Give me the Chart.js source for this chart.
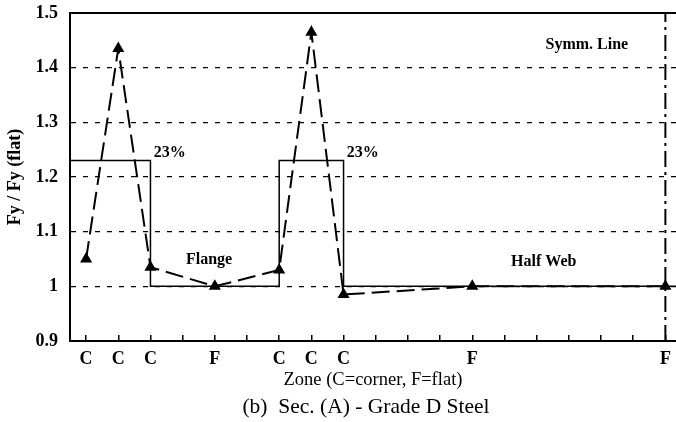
<!DOCTYPE html>
<html>
<head>
<meta charset="utf-8">
<script src="https://cdn.jsdelivr.net/npm/chart.js@4/dist/chart.umd.min.js"></script>
<style>
  html, body { margin: 0; padding: 0; background: #fff; }
  #wrap { width: 676px; height: 422px; }
</style>
</head>
<body>
<div id="wrap"><canvas id="fyCanvas" width="676" height="422"></canvas></div>
<script>
// zone positions along the section and tick labels
const tickPos = [0, 1, 2, 3, 4, 5, 6, 7, 8, 9, 10, 11, 12, 13, 14, 15, 16, 17, 18];
const tickLabels = ['C', 'C', 'C', '', 'F', '', 'C', 'C', 'C', '', '', '', 'F', '', '', '', '', '', 'F'];

// measured Fy / Fy(flat)
const zoneX = [0, 1, 2, 4, 6, 7, 8, 12, 18];
const ratio = [1.05, 1.435, 1.035, 1.0, 1.03, 1.465, 0.985, 1.0, 1.0];

// corner enhancement steps (23%)
const stepX = [-0.5, 2, 2, 6, 6, 8, 8, 18.33];
const stepY = [1.23, 1.23, 1.0, 1.0, 1.23, 1.23, 1.0, 1.0];

// symmetry line
const symmX = [18, 18];
const symmY = [0.9, 1.5];

const notes = [
    { text: '23%', x: 2.1, y: 1.245, align: 'left' },
    { text: '23%', x: 8.1, y: 1.245, align: 'left' },
    { text: 'Flange', x: 3.82, y: 1.048, align: 'center' },
    { text: 'Half Web', x: 14.22, y: 1.044, align: 'center' },
    { text: 'Symm. Line', x: 15.56, y: 1.442, align: 'center' }
];

const caption = '(b)  Sec. (A) - Grade D Steel';

const serif = '"Liberation Serif", "Times New Roman", serif';

const notesPlugin = {
    id: 'notes',
    afterDatasetsDraw(chart) {
        const ctx = chart.ctx;
        const xs = chart.scales.x;
        const ys = chart.scales.y;
        ctx.save();
        ctx.fillStyle = '#000';
        ctx.font = 'bold 16px ' + serif;
        ctx.textBaseline = 'middle';
        for (const n of notes) {
            ctx.textAlign = n.align;
            ctx.fillText(n.text, xs.getPixelForValue(n.x), ys.getPixelForValue(n.y));
        }
        // figure caption under the axis title
        ctx.font = '21.5px ' + serif;
        ctx.textAlign = 'center';
        ctx.fillText(caption, (xs.left + xs.right) / 2 - 7, xs.bottom - 15);
        ctx.restore();
    }
};

function noPad(s) {
    s.paddingLeft = 0;
    s.paddingRight = 0;
    s.paddingTop = 0;
    s.paddingBottom = 0;
}

const ctx = document.getElementById('fyCanvas').getContext('2d');
const fyChart = new Chart(ctx, {
    type: 'scatter',
    data: {
        datasets: [{
            label: 'steps',
            data: stepX.map((x, i) => ({ x: x, y: stepY[i] })),
            showLine: true,
            borderColor: '#000',
            borderWidth: 1.5,
            pointRadius: 0,
            fill: false
        }, {
            label: 'measured',
            data: zoneX.map((x, i) => ({ x: x, y: ratio[i] })),
            showLine: true,
            borderColor: '#000',
            borderWidth: 2,
            borderDash: [18, 7],
            pointStyle: 'triangle',
            pointRadius: 5,
            pointBackgroundColor: '#000',
            pointBorderColor: '#000',
            fill: false
        }, {
            label: 'symm',
            data: symmX.map((x, i) => ({ x: x, y: symmY[i] })),
            showLine: true,
            borderColor: '#000',
            borderWidth: 2,
            borderDash: [16, 5, 3, 5],
            pointRadius: 0,
            fill: false
        }]
    },
    options: {
        responsive: false,
        animation: false,
        layout: { padding: 0, autoPadding: false },
        plugins: {
            legend: { display: false },
            tooltip: { enabled: false }
        },
        scales: {
            x: {
                type: 'linear',
                position: 'bottom',
                min: -0.5,
                max: 18.33,
                afterBuildTicks: (s) => { s.ticks = tickPos.map(v => ({ value: v })); },
                afterFit: (s) => { s.height = 81; noPad(s); },
                ticks: {
                    autoSkip: false,
                    maxRotation: 0,
                    padding: 14,
                    color: '#000',
                    font: { family: serif, size: 18, weight: 'bold' },
                    callback: (v, i) => tickLabels[i]
                },
                grid: {
                    drawOnChartArea: false,
                    drawTicks: true,
                    tickLength: -6,
                    color: '#000',
                    lineWidth: 1.5
                },
                border: { display: true, color: '#000', width: 2 },
                title: {
                    display: true,
                    text: 'Zone (C=corner, F=flat)',
                    color: '#000',
                    font: { family: serif, size: 18.5, weight: 'normal' },
                    padding: { top: 0, bottom: 31 }
                }
            },
            xTop: {
                type: 'linear',
                position: 'top',
                min: -0.5,
                max: 18.33,
                afterFit: (s) => { s.height = 13; noPad(s); },
                ticks: { display: false },
                grid: { display: false },
                border: { display: true, color: '#000', width: 2 }
            },
            y: {
                type: 'linear',
                min: 0.9,
                max: 1.5,
                afterFit: (s) => { s.width = 70; noPad(s); },
                ticks: {
                    stepSize: 0.1,
                    padding: 12,
                    color: '#000',
                    font: { family: serif, size: 18, weight: 'bold' },
                    callback: (v) => Math.abs(v - 1) < 1e-6 ? '1' : Number(v).toFixed(1)
                },
                grid: {
                    drawTicks: false,
                    color: (c) => (c.tick && c.tick.value > 0.95 && c.tick.value < 1.45) ? '#000' : 'rgba(0,0,0,0)',
                    lineWidth: 1.3
                },
                border: { display: true, color: '#000', width: 2, dash: [5, 7] },
                title: {
                    display: true,
                    text: 'Fy / Fy (flat)',
                    color: '#000',
                    font: { family: serif, size: 18, weight: 'bold' },
                    padding: { top: 5, bottom: 0 }
                }
            }
        }
    },
    plugins: [notesPlugin]
});
</script>
</body>
</html>
